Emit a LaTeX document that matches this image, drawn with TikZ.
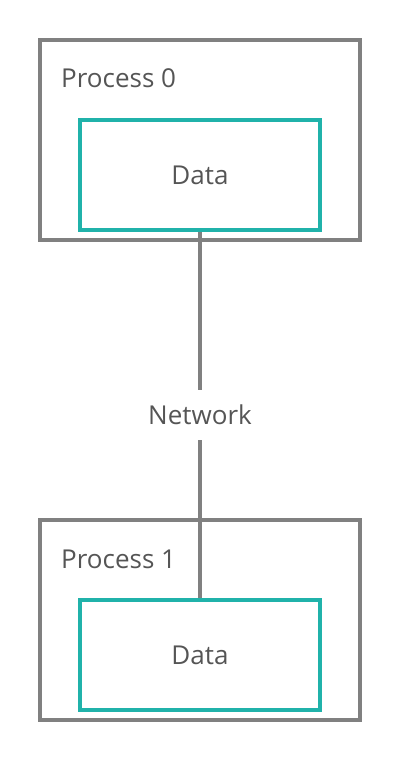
\documentclass[tikz,border=0pt]{standalone}
\usepackage{fontspec}
\setmainfont{Open Sans}
\definecolor{boxgray}{HTML}{808080}
\definecolor{teal2}{HTML}{20B2AA}
\definecolor{txt}{HTML}{555555}
\begin{document}
\begin{tikzpicture}[x=1pt,y=-1pt,
  outerbox/.style={draw=boxgray,line width=4pt,minimum width=320pt,minimum height=200pt,inner sep=0pt},
  databox/.style={draw=teal2,line width=4pt,minimum width=240pt,minimum height=110pt,inner sep=0pt,font=\fontsize{26}{30}\selectfont,text=txt},
  lbl/.style={font=\fontsize{26}{30}\selectfont,text=txt,inner sep=0pt,anchor=base west},
  link/.style={draw=boxgray,line width=4pt}]
\useasboundingbox (0,0) rectangle (400,760);
\node[outerbox] (p0) at (200,140) {};
\node[lbl] (l0) at (61,88) {Process 0};
\node[databox] (d0) at (200,175) {Data};
\node[outerbox] (p1) at (200,620) {};
\node[lbl] (l1) at (61,568) {Process 1};
\node[databox] (d1) at (200,655) {Data};
\node[font=\fontsize{26}{30}\selectfont,text=txt,minimum height=50pt,inner sep=0pt] (net) at (200,415) {Network};
\draw[link] (d0.south) -- (net.north);
\draw[link] (net.south) -- (d1.north);
\end{tikzpicture}
\end{document}
